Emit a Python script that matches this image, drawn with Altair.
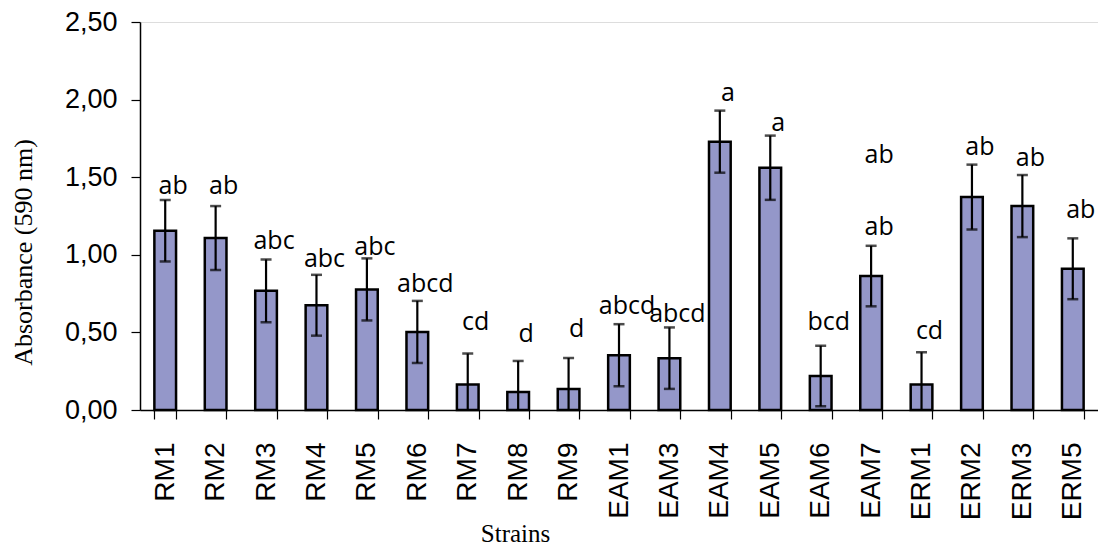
import altair as alt
import pandas as pd

strains = ["RM1", "RM2", "RM3", "RM4", "RM5", "RM6", "RM7", "RM8", "RM9",
           "EAM1", "EAM3", "EAM4", "EAM5", "EAM6", "EAM7",
           "ERM1", "ERM2", "ERM3", "ERM5"]
absorbance = [1.155, 1.108, 0.768, 0.675, 0.777, 0.503, 0.164, 0.116, 0.135,
              0.353, 0.334, 1.729, 1.561, 0.219, 0.863,
              0.164, 1.372, 1.314, 0.910]
error = [0.198, 0.206, 0.202, 0.196, 0.200, 0.200, 0.200, 0.200, 0.200,
         0.200, 0.198, 0.200, 0.207, 0.195, 0.195,
         0.208, 0.209, 0.200, 0.196]

# significance letters and the height (in absorbance units) where each sits
label_strain = ["RM1", "RM2", "RM3", "RM4", "RM5", "RM6", "RM7", "RM8", "RM9",
                "EAM1", "EAM3", "EAM4", "EAM5", "EAM6", "EAM7", "EAM7",
                "ERM1", "ERM2", "ERM3", "ERM5"]
label_text = ["ab", "ab", "abc", "abc", "abc", "abcd", "cd", "d", "d",
              "abcd", "abcd", "a", "a", "bcd", "ab", "ab",
              "cd", "ab", "ab", "ab"]
label_y = [1.39, 1.39, 1.04, 0.92, 1.00, 0.76, 0.514, 0.44, 0.47,
           0.62, 0.57, 1.99, 1.80, 0.514, 1.59, 1.13,
           0.46, 1.64, 1.57, 1.24]

df = pd.DataFrame({"strain": strains, "value": absorbance, "err": error})
df["raw_lo"] = df["value"] - df["err"]
df["lo"] = df["raw_lo"].clip(lower=0)
df["hi"] = df["value"] + df["err"]
df_lo_caps = df[df["raw_lo"] > 0]
labels = pd.DataFrame({"strain": label_strain, "text": label_text, "ly": label_y})

x_scale = alt.Scale(domain=strains, paddingInner=0.57, paddingOuter=0.285)
y_scale = alt.Scale(domain=[0, 2.5], nice=False, zero=True)

x_axis = alt.Axis(
    title="Strains", labelAngle=-90, labelFont="Liberation Sans", labelFontSize=28,
    labelColor="black", labelPadding=23, tickBand="extent", tickSize=9,
    tickColor="black", tickWidth=1.2, domainColor="black", domainWidth=1.5,
    titleFont="Liberation Serif", titleFontSize=25, titleFontWeight="normal",
    titleColor="black", titleX=375, titleY=131, titleBaseline="alphabetic",
    titleAnchor="middle", labelOverlap=False,
)
y_axis = alt.Axis(
    title="Absorbance (590 nm)", values=[0, 0.5, 1.0, 1.5, 2.0, 2.5],
    labelExpr="replace(format(datum.value, '.2f'), '.', ',')",
    labelFont="Liberation Sans", labelFontSize=27, labelColor="black",
    labelPadding=14, tickSize=9, tickColor="black", tickWidth=1.2,
    domainColor="black", domainWidth=1.5, grid=False,
    titleFont="Liberation Serif", titleFontSize=26, titleFontWeight="normal",
    titleColor="black", titleX=-117, titleY=230, titleBaseline="middle",
    titleAngle=270,
)

base = alt.Chart(df)
bars = base.mark_bar(color="#9497c9", stroke="black", strokeWidth=2.5).encode(
    x=alt.X("strain:N", scale=x_scale, axis=x_axis, sort=strains),
    y=alt.Y("value:Q", scale=y_scale, axis=y_axis),
)
rules = base.mark_rule(color="black", strokeWidth=2.2).encode(
    x=alt.X("strain:N", scale=x_scale, sort=strains),
    y=alt.Y("lo:Q", scale=y_scale),
    y2="hi:Q",
)
caps_hi = base.mark_tick(color="black", thickness=2.5, size=11, orient="horizontal").encode(
    x=alt.X("strain:N", scale=x_scale, sort=strains),
    y=alt.Y("hi:Q", scale=y_scale),
)
caps_lo = alt.Chart(df_lo_caps).mark_tick(color="black", thickness=2.5, size=11, orient="horizontal").encode(
    x=alt.X("strain:N", scale=x_scale, sort=strains),
    y=alt.Y("lo:Q", scale=y_scale),
)
text = alt.Chart(labels).mark_text(
    font="Open Sans", fontSize=25, color="black", baseline="alphabetic", dx=8
).encode(
    x=alt.X("strain:N", scale=x_scale, sort=strains),
    y=alt.Y("ly:Q", scale=y_scale),
    text="text:N",
)

chart = alt.layer(bars, rules, caps_hi, caps_lo, text).properties(
    width=958, height=388,
    autosize=alt.AutoSizeParams(type="none"),
    padding={"left": 132, "top": 14, "right": 0, "bottom": 141},
).configure_view(stroke=None).configure(background="white")

chart.save("out.html", embed_options={"renderer": "svg", "actions": False})
